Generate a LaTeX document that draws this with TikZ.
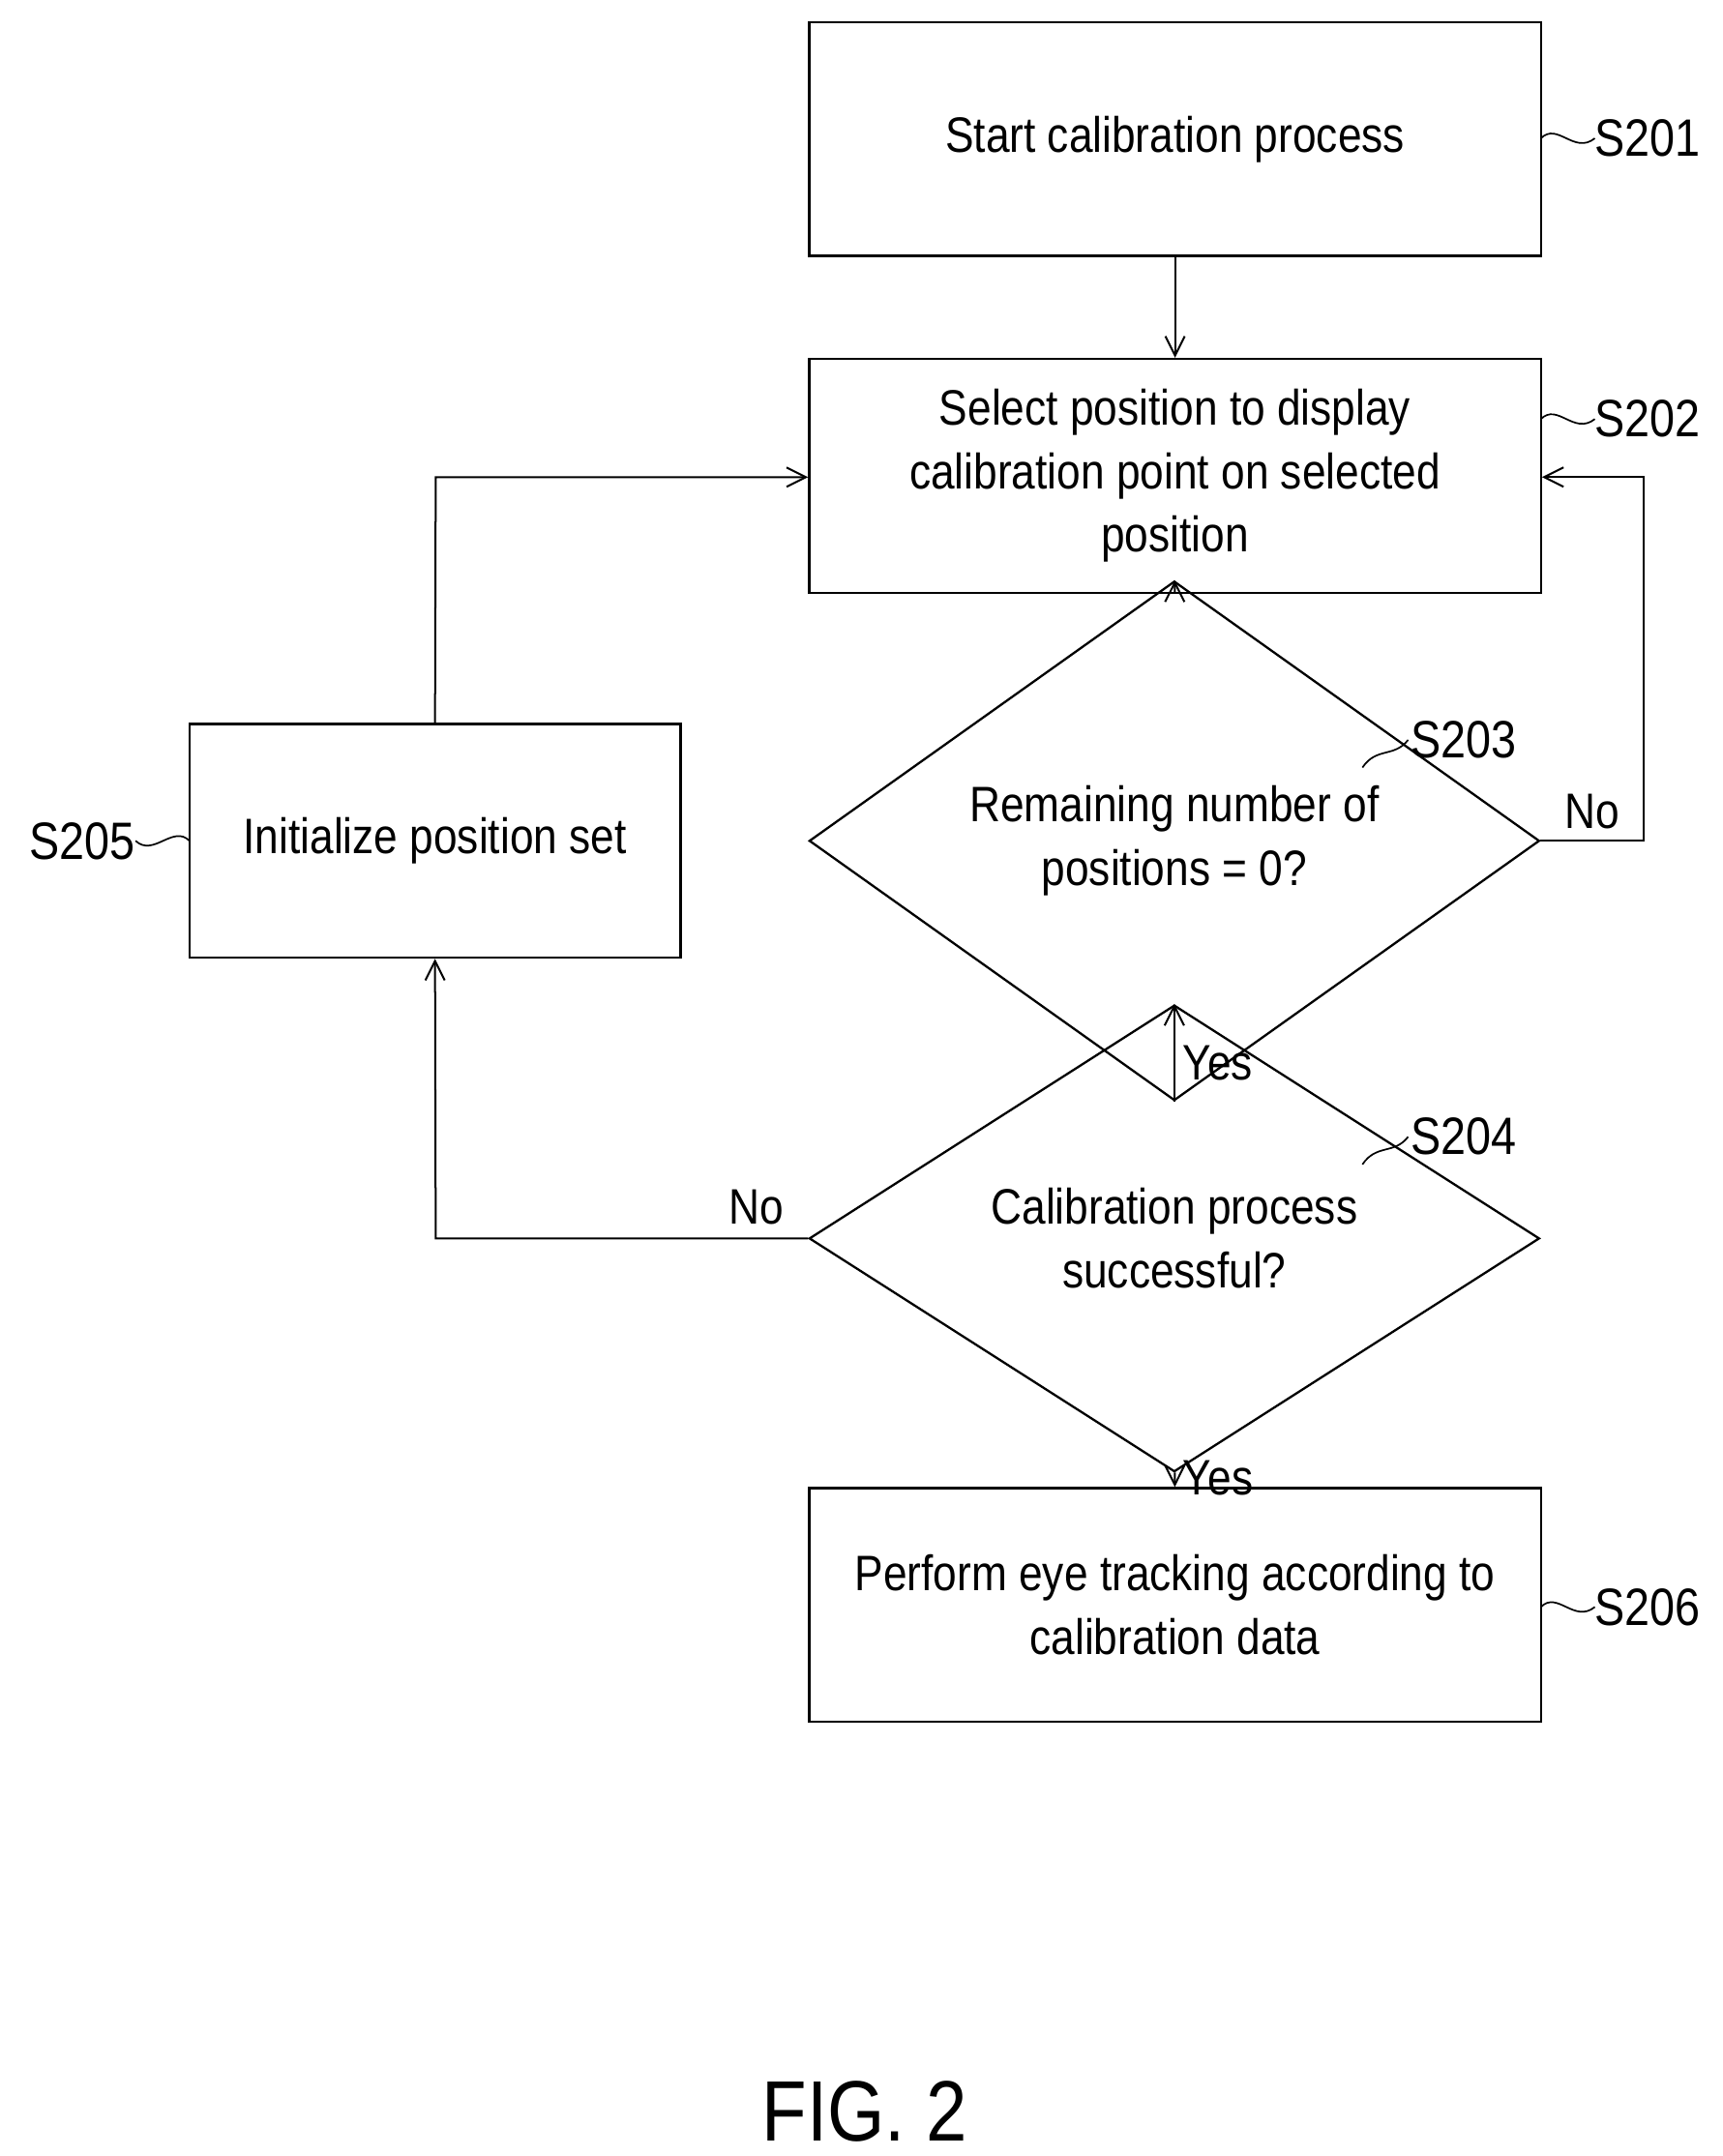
\documentclass[tikz,border=0pt]{standalone}
\usepackage{fontspec}
\setmainfont[FakeStretch=0.86]{Liberation Sans}
\usetikzlibrary{shapes.geometric,arrows.meta}
\begin{document}
\begin{tikzpicture}[x=1pt,y=-1pt,
  box/.style={draw,line width=1.6pt,minimum width=529pt,minimum height=169pt,align=center,inner sep=0pt},
  dia/.style={draw,line width=1.6pt,diamond,minimum width=528pt,minimum height=209pt,inner sep=0pt,align=center},
  t/.style={font=\fontsize{36}{46}\selectfont},
  lab/.style={font=\fontsize{38}{46}\selectfont,inner sep=0pt},
  ar/.style={line width=1.4pt,-{Straight Barb[length=14pt,width=14pt]}},
  ln/.style={line width=1.4pt},
  tl/.style={line width=1.2pt}]
\useasboundingbox (0,0) rectangle (1245,1559);
\node[box,t] (s1) at (849.5,100.5) {Start calibration process};
\node[box,t] (s2) at (849.5,344) {Select position to display\\calibration point on selected\\position};
\node[dia,t] (s3) at (849,608) {Remaining number of\\positions = 0?};
\node[dia,t] (s4) at (849,895.5) {Calibration process\\successful?};
\node[box,t,minimum width=355pt] (s5) at (314.5,608) {Initialize position set};
\node[box,t] (s6) at (849.5,1160.5) {Perform eye tracking according to\\calibration data};
\draw[ar] (s1) -- (s2);
\draw[ar] (s2) -- (s3);
\draw[ar] (s3) -- node[t,right,pos=0.4,xshift=2pt]{Yes} (s4);
\draw[ar] (s4) -- node[t,right,pos=0.4,xshift=2pt]{Yes} (s6);
\coordinate (r1) at (1188,608);
\coordinate (r2) at (1188,345);
\draw[ar] (s3.east) -- (r1) -- (r2) -- (s2.east |- r2);
\node[t] (no1) at (1151,587) {No};
\coordinate (l1) at (315,895.5);
\draw[ar] (s4.west) -- (l1) -- (s5.south);
\node[t] (no2) at (547,873) {No};
\coordinate (u1) at (315,345);
\draw[ar] (s5.north) -- (u1) -- (s2.west |- u1);
% step labels
\node[lab,anchor=west] (l201) at (1153,100) {S201};
\node[lab,anchor=west] (l202) at (1153,303) {S202};
\node[lab,anchor=west] (l203) at (1020,535) {S203};
\node[lab,anchor=west] (l204) at (1020,822) {S204};
\node[lab,anchor=east] (l205) at (98,608) {S205};
\node[lab,anchor=west] (l206) at (1153,1162) {S206};
\draw[tl] (1114,100) .. controls (1126,88) and (1138,112) .. (l201.west);
\draw[tl] (1114,303) .. controls (1126,291) and (1138,315) .. (l202.west);
\draw[tl] (1114,1162) .. controls (1126,1150) and (1138,1174) .. (l206.west);
\draw[tl] (137,608) .. controls (125,596) and (111,620) .. (l205.east);
\draw[tl] (985,555) .. controls (995,540) and (1008,548) .. (1018,535);
\draw[tl] (985,842) .. controls (995,827) and (1008,835) .. (1018,822);
\node[font=\fontsize{62}{70}\selectfont] (fig) at (625,1527) {FIG. 2};
\end{tikzpicture}
\end{document}
